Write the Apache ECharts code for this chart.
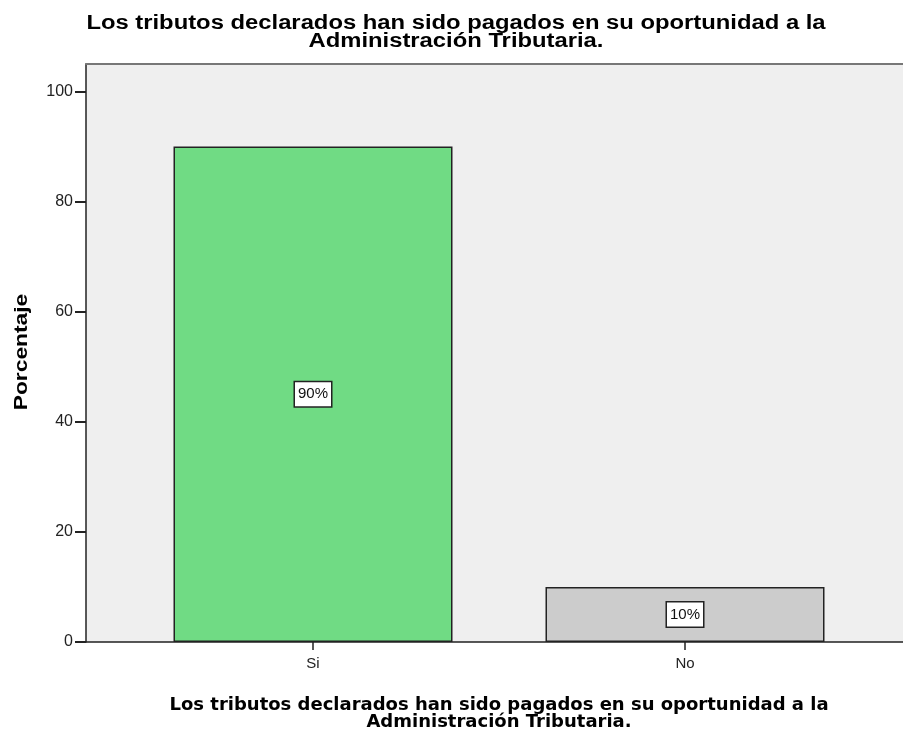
<!DOCTYPE html>
<html>
<head>
    <meta charset="utf-8">
    <script src="https://cdn.jsdelivr.net/npm/echarts@6/dist/echarts.min.js"></script>
    <style>
        body { margin: 0; background: #fff; }
    </style>
</head>
<body>
    <div id="main" style="width:903px;height:733px"></div>
    <script type="text/javascript">
        // datos del grafico
        var categorias = ['Si', 'No'];
        var porcentajes = [90, 10];
        var etiquetas = ['90%', '10%'];
        var colores = ['#70db84', '#cccccc'];
        var marcasY = [0, 20, 40, 60, 80, 100];
        var titulo = 'Los tributos declarados han sido pagados en su oportunidad a la\nAdministración Tributaria.';
        var tituloY = 'Porcentaje';

        var myChart = echarts.init(document.getElementById('main'));

        var datos = [];
        for (var i = 0; i < categorias.length; i++) {
            datos.push({
                value: porcentajes[i],
                itemStyle: { color: colores[i] },
                label: { formatter: etiquetas[i] }
            });
        }

        var option = {
            animation: false,
            // titulo arriba, texto ensanchado como en SPSS
            graphic: [{
                type: 'text',
                x: 456,
                y: 32,
                scaleX: 1.19,
                style: {
                    text: titulo,
                    fontFamily: 'Liberation Sans',
                    fontWeight: 'bold',
                    fontSize: 20,
                    lineHeight: 18,
                    fill: '#000',
                    align: 'center',
                    verticalAlign: 'middle'
                }
            }, {
                type: 'text',
                x: 22,
                y: 352,
                rotation: Math.PI / 2,
                scaleX: 1.2,
                style: {
                    text: tituloY,
                    fontFamily: 'Liberation Sans',
                    fontWeight: 'bold',
                    fontSize: 19,
                    fill: '#000',
                    align: 'center',
                    verticalAlign: 'middle'
                }
            }],
            title: [{
                text: titulo,
                left: 494,
                top: 692,
                textAlign: 'center',
                textStyle: {
                    fontFamily: 'DejaVu Sans',
                    fontWeight: 'bold',
                    fontSize: 18,
                    lineHeight: 17,
                    color: '#000'
                }
            }],
            grid: [
                { left: 86, right: 0, top: 64, bottom: 91, show: true, backgroundColor: '#efefef', borderWidth: 0, outerBoundsMode: 'none' },
                { left: 127, right: 32, top: 64, bottom: 91, outerBoundsMode: 'none' }
            ],
            xAxis: [
                {
                    gridIndex: 0, type: 'value', min: 0, max: 1, position: 'bottom',
                    axisLine: { show: true, lineStyle: { color: '#222', width: 1.5 } },
                    axisTick: { show: false }, axisLabel: { show: false }, splitLine: { show: false }
                },
                {
                    gridIndex: 0, type: 'value', min: 0, max: 1, position: 'top',
                    axisLine: { show: true, lineStyle: { color: '#777', width: 2 } },
                    axisTick: { show: false }, axisLabel: { show: false }, splitLine: { show: false }
                },
                {
                    gridIndex: 1, type: 'category', data: categorias,
                    axisLine: { show: false },
                    axisTick: { show: true, alignWithLabel: true, length: 8, lineStyle: { color: '#222', width: 1.5 } },
                    axisLabel: { fontFamily: 'Liberation Sans', fontSize: 15, color: '#222', margin: 14 }
                }
            ],
            yAxis: [
                {
                    gridIndex: 0, type: 'value', min: 0, max: 105,
                    axisLine: { show: true, lineStyle: { color: '#222', width: 1.5 } },
                    axisTick: { show: true, length: 11, customValues: marcasY, lineStyle: { color: '#222', width: 2 } },
                    axisLabel: { customValues: marcasY, fontFamily: 'Liberation Sans', fontSize: 16, color: '#222', margin: 13 },
                    splitLine: { show: false }
                },
                {
                    gridIndex: 1, type: 'value', min: 0, max: 105, show: false
                }
            ],
            series: [{
                type: 'bar',
                xAxisIndex: 2,
                yAxisIndex: 1,
                barWidth: '75%',
                data: datos,
                itemStyle: { borderColor: '#222', borderWidth: 1.5 },
                label: {
                    show: true,
                    position: 'inside',
                    fontFamily: 'Liberation Sans',
                    fontSize: 15,
                    color: '#111',
                    backgroundColor: '#fff',
                    borderColor: '#222',
                    borderWidth: 1.5,
                    padding: [5, 3, 4, 3]
                }
            }]
        };
        myChart.setOption(option);
    </script>
</body>
</html>
